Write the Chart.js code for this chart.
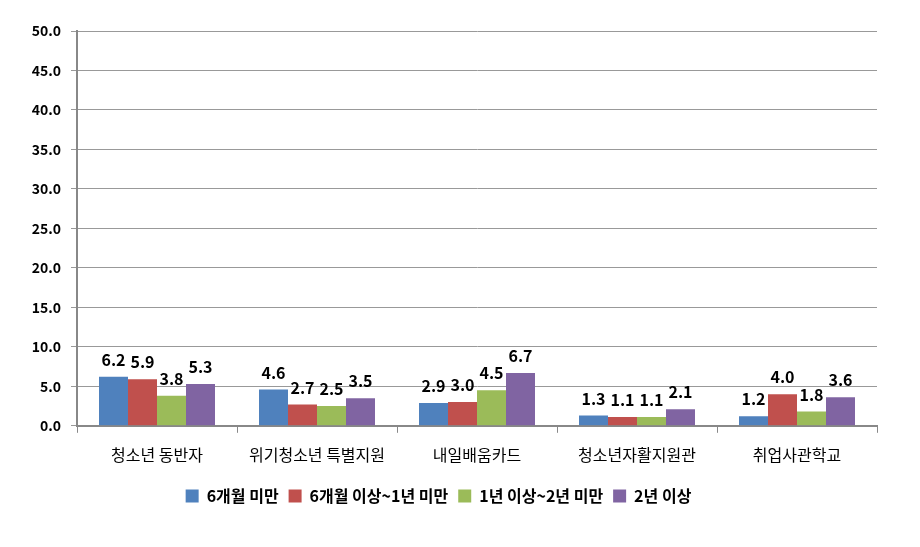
<!DOCTYPE html>
<html>
<head>
<meta charset="utf-8">
<script src="https://cdn.jsdelivr.net/npm/chart.js@4/dist/chart.umd.min.js"></script>
<style>
  body { margin: 0; background: #fff; }
  #wrap { width: 920px; height: 547px; }
</style>
</head>
<body>
<div id="wrap"><canvas id="myChartBar"></canvas></div>
<script>
var categorias = ['청소년 동반자', '위기청소년 특별지원', '내일배움카드', '청소년자활지원관', '취업사관학교'];
var series = ['6개월 미만', '6개월 이상~1년 미만', '1년 이상~2년 미만', '2년 이상'];
var menos6m = [6.2, 4.6, 2.9, 1.3, 1.2];
var de6mA1a = [5.9, 2.7, 3.0, 1.1, 4.0];
var de1aA2a = [3.8, 2.5, 4.5, 1.1, 1.8];
var mais2a = [5.3, 3.5, 6.7, 2.1, 3.6];
var cores = ['#4F81BD', '#C0504D', '#9BBB59', '#8064A2'];

var fonte = "'Noto Sans CJK KR', 'Liberation Sans', sans-serif";

// escreve o valor acima de cada barra
var rotulos = {
  id: 'rotulos',
  afterDatasetsDraw: function(chart) {
    var ctx = chart.ctx;
    ctx.save();
    ctx.font = 'bold 16px ' + fonte;
    ctx.fillStyle = '#000';
    ctx.textAlign = 'center';
    ctx.textBaseline = 'bottom';
    chart.data.datasets.forEach(function(ds, i) {
      chart.getDatasetMeta(i).data.forEach(function(bar, j) {
        ctx.fillText(ds.data[j].toFixed(1), bar.x, bar.y - 9);
      });
    });
    ctx.restore();
  }
};

var dados = [menos6m, de6mA1a, de1aA2a, mais2a];

var ctx1 = document.getElementById('myChartBar').getContext('2d');
var myChartBar = new Chart(ctx1, {
  type: 'bar',
  data: {
    labels: categorias,
    datasets: series.map(function(nome, i) {
      return {
        label: nome,
        data: dados[i],
        backgroundColor: cores[i],
        categoryPercentage: 0.725,
        barPercentage: 1.0
      };
    })
  },
  options: {
    responsive: true,
    maintainAspectRatio: false,
    animation: false,
    layout: { padding: { top: 31, right: 43, bottom: 33, left: 0 } },
    plugins: {
      tooltip: { enabled: false },
      legend: {
        position: 'bottom',
        labels: {
          color: '#000',
          font: { family: fonte, size: 16, weight: 'bold' },
          boxWidth: 13,
          boxHeight: 13,
          padding: 10
        }
      }
    },
    scales: {
      x: {
        grid: { drawOnChartArea: false, color: '#888', tickLength: 7, tickWidth: 1 },
        border: { color: '#888', width: 2 },
        ticks: { color: '#000', font: { family: fonte, size: 16 }, padding: 13 }
      },
      y: {
        min: 0,
        max: 50,
        afterFit: function(scale) { scale.width = 77; },
        grid: { color: '#999', lineWidth: 1, tickLength: 6 },
        border: { color: '#888', width: 2 },
        ticks: {
          stepSize: 5,
          color: '#000',
          padding: 10,
          font: { family: fonte, size: 14, weight: 'bold' },
          callback: function(v) { return v.toFixed(1); }
        }
      }
    }
  },
  plugins: [rotulos]
});
</script>
</body>
</html>
